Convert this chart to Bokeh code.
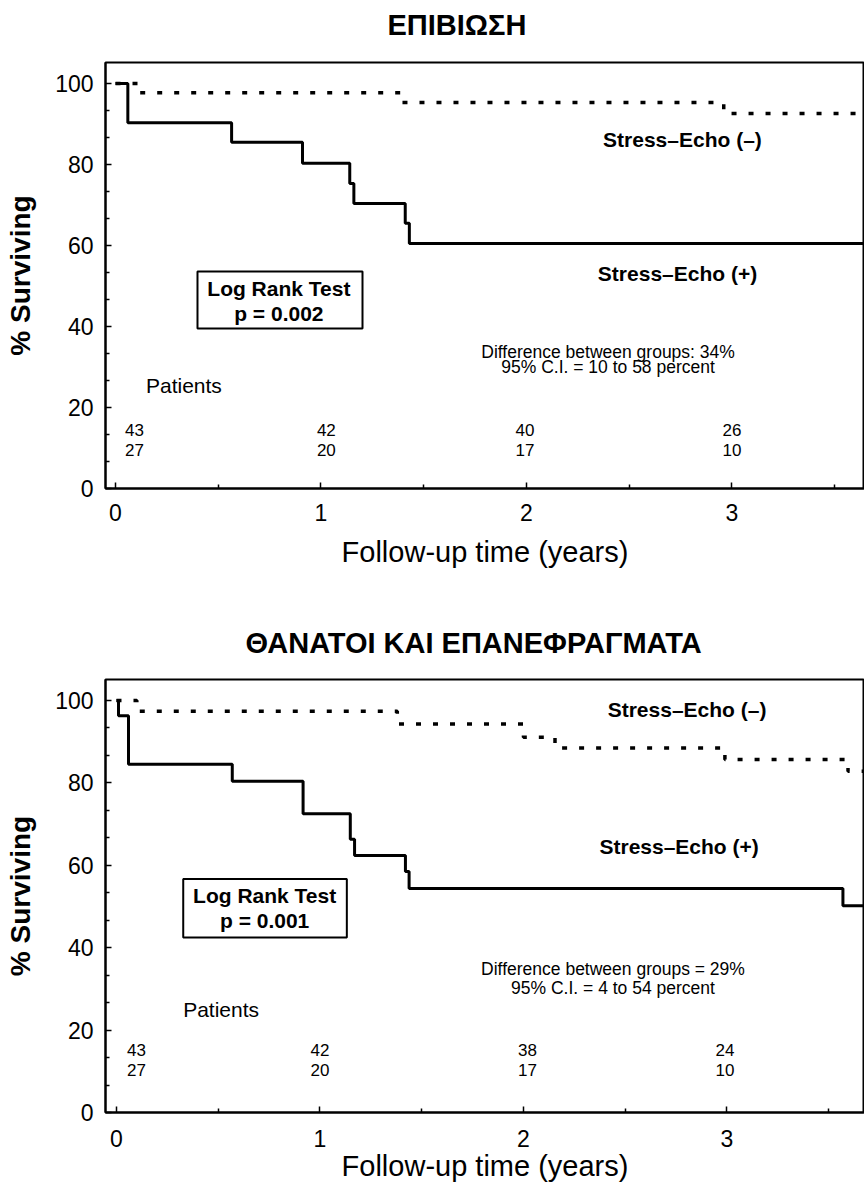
import numpy as np
from bokeh.plotting import figure
from bokeh.layouts import column
from bokeh.models import FixedTicker, BoxAnnotation, Range1d
from bokeh.core.properties import value
from bokeh.embed import file_html
from bokeh.resources import INLINE

FONT = "Liberation Sans"

# ---------------- data ----------------
titles = ["ΕΠΙΒΙΩΣΗ", "ΘΑΝΑΤΟΙ ΚΑΙ ΕΠΑΝΕΦΡΑΓΜΑΤΑ"]
x_label = "Follow-up time (years)"
y_label = "% Surviving"
group_labels = ["Stress\u2013Echo (\u2013)", "Stress\u2013Echo (+)"]

# panel 1: survival
surv_neg_t = [0.0, 0.11, 1.39, 2.96]
surv_neg_s = [100.0, 97.7, 95.3, 92.6]
surv_pos_t = [0.0, 0.06, 0.565, 0.91, 1.14, 1.16, 1.41, 1.43]
surv_pos_s = [100.0, 90.3, 85.5, 80.3, 75.3, 70.4, 65.5, 60.5]
surv_n_neg = [43, 42, 40, 26]
surv_n_pos = [27, 20, 17, 10]
surv_p = "p = 0.002"
surv_diff = ["Difference between groups: 34%", "95% C.I. = 10 to 58 percent"]

# panel 2: deaths and reinfarctions
ev_neg_t = [0.0, 0.10, 1.38, 2.0, 2.155, 2.99, 3.595]
ev_neg_s = [100.0, 97.4, 94.3, 91.1, 88.5, 85.7, 82.8]
ev_pos_t = [0.0, 0.01, 0.059, 0.569, 0.917, 1.149, 1.17, 1.42, 1.438, 3.57]
ev_pos_s = [100.0, 96.3, 84.5, 80.4, 72.5, 66.3, 62.4, 58.5, 54.4, 50.2]
ev_n_neg = [43, 42, 38, 24]
ev_n_pos = [27, 20, 17, 10]
ev_p = "p = 0.001"
ev_diff = ["Difference between groups = 29%", "95% C.I. = 4 to 54 percent"]

count_times = [0, 1, 2, 3]
x_ticks = [0, 1, 2, 3]
x_minor = [0.5, 1.5, 2.5, 3.5]
y_ticks = [0, 20, 40, 60, 80, 100]


def make_panel(title, neg_t, neg_s, pos_t, pos_s, n_neg, n_pos, ptxt, diff, L):
    p = figure(width=864, height=L["height"], output_backend="svg", toolbar_location=None,
               x_range=Range1d(*L["xr"]), y_range=Range1d(*L["yr"]),
               min_border_left=L["bl"], min_border_right=0,
               min_border_top=L["bt"], min_border_bottom=L["bb"],
               background_fill_color="white", border_fill_color="white",
               margin=L["margin"])
    p.grid.visible = False
    p.outline_line_color = "black"
    p.outline_line_width = 2

    xa = p.below[0]
    ya = p.left[0]

    # title
    p.title.text = title
    p.title.align = "left"
    p.title.offset = L["toff"]
    p.title.standoff = L["tstand"]
    p.title.text_font = FONT
    p.title.text_font_size = "29px"
    p.title.text_font_style = "bold"
    p.title.text_color = "black"

    # axes
    xa.ticker = FixedTicker(ticks=x_ticks, minor_ticks=x_minor)
    ya.ticker = FixedTicker(ticks=y_ticks,
                            minor_ticks=[v + d for v in y_ticks[:-1] for d in (20 / 3, 40 / 3)])
    for ax in (xa, ya):
        ax.axis_line_color = "black"
        ax.axis_line_width = 2
        ax.major_tick_in = 6
        ax.major_tick_out = 0
        ax.minor_tick_in = 4
        ax.minor_tick_out = 0
        ax.major_tick_line_width = 1.5
        ax.minor_tick_line_width = 1.5
        ax.major_label_text_font = FONT
        ax.major_label_text_font_size = "23px"
        ax.major_label_text_color = "black"
        ax.axis_label_text_font = FONT
        ax.axis_label_text_color = "black"
    xa.axis_label = x_label
    xa.axis_label_text_font_size = "29px"
    xa.axis_label_text_font_style = "normal"
    xa.major_label_standoff = L["xls"]
    xa.axis_label_standoff = L["xas"]
    ya.axis_label = y_label
    ya.axis_label_text_font_size = "28px"
    ya.axis_label_text_font_style = "bold"
    ya.major_label_standoff = 12
    ya.axis_label_standoff = 16

    x_end = L["xr"][1]
    # curves
    p.step(list(pos_t) + [x_end], list(pos_s) + [pos_s[-1]], mode="after",
           line_color="black", line_width=3)
    p.step(list(neg_t) + [x_end], list(neg_s) + [neg_s[-1]], mode="after",
           line_color="black", line_width=3.5, line_dash="5 12")

    def txt(x, y, t, size, style="normal"):
        p.text(x=x, y=y, text=t, text_font=value(FONT), text_font_size=size,
               text_font_style=style, text_align="center", text_baseline="middle",
               text_color="black")

    # group labels
    txt([L["neg_lab"][0]], [L["neg_lab"][1]], [group_labels[0]], "21px", "bold")
    txt([L["pos_lab"][0]], [L["pos_lab"][1]], [group_labels[1]], "21px", "bold")

    # log rank box
    bx = L["box"]
    p.add_layout(BoxAnnotation(left=bx[0], right=bx[1], bottom=bx[2], top=bx[3],
                               fill_alpha=0, line_color="black", line_alpha=1.0,
                               line_width=2))
    txt([L["lr_x"]] * 2, L["lr_y"], ["Log Rank Test", ptxt], "21px", "bold")

    # difference text
    txt([L["diff_x"]] * 2, L["diff_y"], diff, "17.5px")

    # patients
    txt([L["pat"][0]], [L["pat"][1]], ["Patients"], "21px")
    cx = [max(t, L["c0"]) + d for t, d in zip(count_times, L["cdx"])]
    txt(cx, [L["row"][0]] * 4, [str(v) for v in n_neg], "17px")
    txt(cx, [L["row"][1]] * 4, [str(v) for v in n_pos], "17px")
    return p


L1 = dict(height=616, margin=(-16, 0, 0, 0), xr=(-0.0487, 3.645), yr=(0, 105.2),
          bl=105, bt=78, bb=112, toff=282, tstand=44, xls=15, xas=12,
          neg_lab=(2.759, 86.3), pos_lab=(2.735, 53.1),
          box=(0.399, 1.202, 39.5, 53.6), lr_x=0.795, lr_y=[49.5, 43.3],
          diff_x=2.397, diff_y=[33.7, 30.0], pat=(0.333, 25.4),
          c0=0.092, cdx=[0, 0.026, -0.007, 0], row=(14.4, 9.6))
L2 = dict(height=584, margin=(0, 0, 0, 0), xr=(-0.054, 3.676), yr=(0, 105.1),
          bl=103, bt=79, bb=72, toff=140, tstand=42, xls=17, xas=0,
          neg_lab=(2.804, 97.8), pos_lab=(2.765, 64.6),
          box=(0.328, 1.132, 42.5, 56.7), lr_x=0.728, lr_y=[52.7, 46.7],
          diff_x=2.44, diff_y=[34.9, 30.2], pat=(0.514, 25.0),
          c0=0.098, cdx=[0, 0, 0.02, -0.01], row=(15.2, 10.3))

p1 = make_panel(titles[0], surv_neg_t, surv_neg_s, surv_pos_t, surv_pos_s,
                surv_n_neg, surv_n_pos, surv_p, surv_diff, L1)
p2 = make_panel(titles[1], ev_neg_t, ev_neg_s, ev_pos_t, ev_pos_s,
                ev_n_neg, ev_n_pos, ev_p, ev_diff, L2)

layout = column(p1, p2, spacing=0)
open("out.html", "w").write(file_html(layout, INLINE))
